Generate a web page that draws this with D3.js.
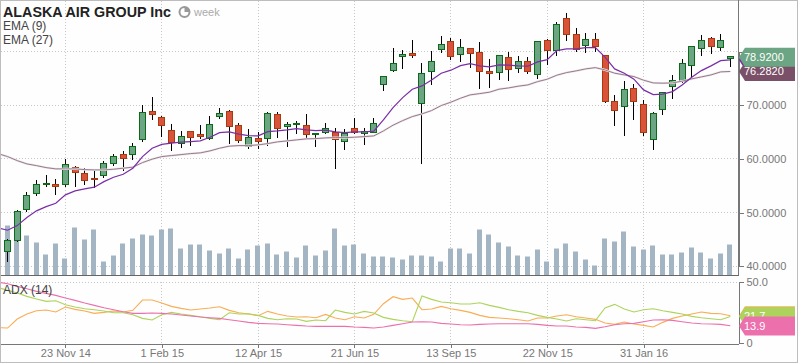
<!DOCTYPE html>
<html>
<head>
    <meta charset="utf-8" />
    <title>Alaska Air Group weekly</title>
    <style>
        html, body { margin: 0; padding: 0; background: #fefefe; }
        svg { display: block; font-family: "Liberation Sans", Arial, sans-serif; }
        .grid-line { stroke: #c8c8c8; stroke-dasharray: 1 2; shape-rendering: crispEdges; }
        .axis path, .axis line { stroke: #777; shape-rendering: crispEdges; }
        .axis text { fill: #777; font-size: 11px; font-family: "Liberation Sans", Arial, sans-serif; }
        .wick { stroke: #000; shape-rendering: crispEdges; }
        .body { shape-rendering: crispEdges; }
        .line { fill: none; }
    </style>
</head>
<body>
    <script src="https://cdn.jsdelivr.net/npm/d3@7/dist/d3.min.js"></script>
    <script>
        // weekly candles, 76 of them
        let opens = [42.74, 44.97, 50.56, 53.54, 55.22, 55.29, 55.22, 58.57, 57.45, 56.41, 56.89, 59.13, 60.88, 60.8, 63.59, 68.88, 67.77, 65.34, 62.92, 65.16,
            64.6, 63.97, 67.88, 68.88, 66.28, 62.37, 63.86, 63.86, 68.32, 66.02, 66.39, 66.39, 64.53, 64.9, 65.08, 63.3, 65.72, 64.79, 64.9, 73.91,
            76.44, 79.05, 79.68, 70.3, 76.33, 80.43, 81.92, 79.5, 80.61, 79.87, 76.39, 76.14, 78.94, 76.89, 78.19, 75.77, 82.1, 80.17, 86.2, 83.22,
            81.17, 82.29, 79.31, 70.74, 69.81, 73.17, 70.19, 63.67, 69.26, 73.54, 74.39, 77.45, 80.61, 82.48, 80.73, 78.7]
        let closes = [44.86, 50.32, 53.24, 55.29, 55.48, 54.84, 59.01, 57.71, 56.15, 56.15, 59.2, 60.5, 60.06, 62.37, 68.7, 68.25, 66.28, 63.04, 64.23, 64.04,
            64.15, 66.57, 68.51, 66.02, 63.48, 64.04, 63.22, 68.51, 65.64, 66.46, 66.65, 64.79, 64.79, 65.72, 63.86, 64.79, 64.9, 65.16, 66.65, 75.4,
            77.82, 79.5, 79.31, 75.96, 78.19, 81.36, 79.05, 80.8, 79.68, 76.33, 76.07, 79.31, 76.7, 78.19, 76.33, 81.92, 80.24, 85.08, 83.22, 80.35,
            82.29, 80.99, 70.74, 69.07, 72.98, 70.74, 64.97, 68.51, 72.42, 74.66, 77.82, 80.99, 82.1, 80.99, 82.1, 79.1]
        let highs = [45.11, 50.51, 53.8, 56.09, 57.02, 56.28, 60, 58.7, 58.27, 58.14, 59.63, 60.93, 61.49, 62.92, 70.06, 71.49, 68.01, 66.52, 65.27, 65.16,
            66.33, 68.01, 69.55, 69.12, 66.76, 65.59, 65.03, 68.75, 68.7, 66.83, 67.08, 68.32, 64.84, 66.65, 65.77, 65.53, 67.64, 65.77, 67.64, 75.4,
            80.67, 80.3, 82.16, 77.88, 80.11, 82.9, 82.48, 82.34, 80.61, 81.79, 78.62, 79.31, 79.92, 79.18, 78.99, 81.92, 82.29, 85.45, 87.19, 84.39,
            83.46, 83.46, 79.31, 71.92, 74.52, 73.91, 70.99, 68.7, 72.42, 75.64, 78.62, 80.99, 83.09, 82.66, 83.28, 79.12]
        let lows = [40.88, 44.6, 50.19, 53.17, 54.84, 53.3, 54.84, 54.84, 55.16, 54.66, 56.52, 58.7, 57.77, 59.81, 63.22, 67.26, 64.15, 61.55, 62.05, 62.48,
            63.67, 63.54, 67.39, 62.79, 63.04, 61.77, 61.77, 62.42, 63.97, 62.29, 64.66, 63.73, 62.29, 64.66, 58.2, 61.73, 64.66, 62.66, 64.79, 72.72,
            76.26, 76.76, 78.86, 59.13, 73.84, 79.79, 78.49, 78.12, 76.95, 73.09, 73.28, 74.71, 74.58, 76.07, 75.88, 74.95, 77.56, 79.24, 82.03, 79.98,
            79.79, 79.98, 70.48, 66.2, 64.34, 67.32, 64.34, 61.73, 68.19, 71.23, 74.1, 75.14, 79.24, 79.61, 80.17, 77.19]
        let volumes = [5.0, 3.7, 4.0, 3.3, 2.1, 3.2, 1.7, 4.8, 3.6, 4.6, 1.4, 2.0, 3.2, 3.7, 4.1, 4.0, 4.6, 4.7, 2.7, 3.1,
            3.1, 2.5, 2.2, 2.7, 1.7, 2.6, 3.0, 3.2, 2.1, 2.4, 1.8, 3.0, 2.0, 2.5, 4.7, 3.0, 3.1, 2.2, 1.9, 1.9,
            1.8, 1.6, 2.0, 2.0, 1.9, 1.4, 2.7, 2.7, 2.2, 4.6, 4.1, 3.3, 2.9, 2.0, 1.9, 2.6, 1.4, 2.7, 3.2, 2.4,
            1.6, 1.0, 3.7, 3.4, 4.4, 2.9, 2.6, 3.0, 2.1, 2.1, 2.3, 2.8, 2.3, 1.7, 2.2, 3.1]

        // indicators start one week earlier than the candles, that week is cut by the left edge
        let ema9 = [47.15, 46.72, 47.58, 49.07, 50.32, 51.12, 51.75, 53.3, 54.04, 54.42, 54.73, 55.77, 56.59, 57.15, 58.27, 60.43, 61.99, 62.7, 62.92, 63.11, 63.22,
            63.35, 64.04, 64.9, 65.03, 64.6, 64.34, 64.28, 65.08, 65.21, 65.4, 65.64, 65.4, 65.27, 65.34, 65.03, 64.9, 65.03, 65.03, 65.16, 67.26,
            69.55, 71.42, 72.98, 73.59, 74.71, 75.96, 76.52, 77.37, 77.75, 77.32, 77.13, 77.5, 77.45, 77.32, 77.26, 78.06, 78.49, 80.17, 80.48, 80.48,
            80.73, 80.73, 78.94, 76.76, 75.96, 74.84, 72.85, 71.97, 72.05, 72.53, 73.78, 75.21, 76.44, 77.32, 78.3, 78.43]
        let ema27 = [60.99, 60.43, 59.68, 59.07, 58.75, 58.38, 58.14, 58.14, 58.14, 58.01, 57.95, 57.95, 58.08, 58.27, 58.46, 59.31, 59.95, 60.43, 60.62, 60.8, 60.99,
            61.12, 61.49, 61.99, 62.37, 62.48, 62.48, 62.61, 62.85, 63.17, 63.35, 63.54, 63.73, 63.78, 63.91, 63.97, 63.97, 64.04, 64.15, 64.28, 65.21,
            66.28, 67.13, 67.88, 68.38, 69, 69.93, 70.56, 71.3, 71.92, 72.16, 72.42, 72.98, 73.22, 73.54, 73.78, 74.39, 74.84, 75.59, 76.07, 76.39,
            76.76, 77, 76.57, 75.96, 75.64, 75.33, 74.66, 74.15, 74.1, 74.15, 74.47, 74.9, 75.27, 75.64, 76.2, 76.28]
        let adxPink = [50.2, 48.84, 46.63, 44.7, 42.49, 40.84, 39.18, 36.98, 35.04, 32.84, 30.9, 28.97, 27.32, 25.66, 24.28, 24.28, 24.56, 24.28, 23.73, 22.9, 22.08,
            21.25, 20.7, 20.14, 19.04, 17.94, 16.83, 16, 15.73, 15.45, 14.9, 14.35, 13.8, 13.52, 13.52, 13.52, 13.52, 12.97, 12.69, 12.14, 12.97,
            14.35, 15.73, 17.11, 17.38, 17.11, 16, 15.45, 14.9, 14.62, 15.18, 15.45, 15.73, 15.73, 15.73, 15.73, 15.18, 14.35, 13.8, 13.8, 12.97,
            12.69, 11.87, 13.25, 14.9, 15.73, 16, 17.38, 18.76, 19.04, 18.49, 17.38, 16.28, 15.73, 15.45, 15.18, 14.07]
        let adxGreen = [45.8, 43.32, 41.12, 38.36, 36.15, 34.22, 34.77, 31.46, 29.53, 28.15, 27.32, 26.21, 24.83, 24.83, 23.18, 20.14, 18.76, 23.18, 25.11, 23.73, 22.63,
            21.52, 20.14, 19.04, 24.83, 23.73, 24.01, 22.63, 20.14, 19.04, 19.87, 19.59, 17.66, 18.76, 18.21, 27.04, 25.11, 23.73, 25.94, 24.56, 20.97,
            19.32, 18.21, 17.38, 38.63, 35.87, 33.66, 33.11, 32.01, 32.01, 33.11, 30.91, 29.25, 27.32, 25.94, 24.83, 22.63, 20.97, 19.59, 17.94, 19.87,
            19.04, 18.21, 28.7, 31.73, 27.87, 25.39, 27.32, 28.15, 26.49, 25.11, 23.73, 21.8, 20.7, 19.87, 19.04, 21.7]
        let adxOrange = [12.42, 12.14, 19.59, 23.73, 26.49, 27.04, 25.39, 29.53, 27.59, 26.21, 24.28, 25.11, 26.21, 25.39, 26.77, 35.32, 35.32, 32.84, 30.08, 28.42, 27.04,
            27.87, 28.7, 29.8, 26.77, 24.83, 23.73, 22.35, 25.94, 23.73, 22.08, 21.25, 21.52, 20.7, 23.45, 20.42, 19.04, 21.52, 20.42, 23.45, 32.28,
            38.08, 35.87, 36.98, 27.32, 27.87, 30.08, 28.15, 26.77, 25.11, 22.63, 20.97, 20.42, 19.87, 19.04, 17.94, 20.42, 20.42, 22.08, 23.18, 21.52,
            20.42, 19.32, 16.28, 15.18, 17.11, 15.45, 14.35, 12.97, 16.83, 20.14, 22.08, 23.73, 25.39, 24.28, 24.01, 22.35]

        let dateTicks = [6, 16, 26, 36, 46, 56, 66]
        let dateLabels = ['23 Nov 14', '1 Feb 15', '12 Apr 15', '21 Jun 15', '13 Sep 15', '22 Nov 15', '31 Jan 16']
        let priceTicks = [40, 50, 60, 70, 80]
        let adxTicks = [0, 50]
        let legendLabels = ['EMA (9)', 'EMA (27)']

        let width = 798,
            height = 363,
            plotRight = 738.5,
            mainBottom = 275.5,
            adxTop = 282,
            adxBottom = 343.5

        let svg = d3.select('body')
            .append('svg')
            .attr('width', width)
            .attr('height', height)

        let x = d3.scaleLinear().domain([0, 75]).range([7.6, 730.3])
        let y = d3.scaleLinear().domain([40, 80]).range([266.3, 51.5])
        let yVol = d3.scaleLinear().domain([0, 5]).range([mainBottom, mainBottom - 50])
        let yAdx = d3.scaleLinear().domain([0, 50]).range([342.7, 282.3])

        let crisp = function (v) { return Math.round(v - 0.5) + 0.5 }

        svg.append('defs').append('clipPath').attr('id', 'plot')
            .append('rect').attr('x', 1).attr('y', 1).attr('width', plotRight - 1).attr('height', height - 2)

        // outer frame
        svg.append('rect')
            .attr('x', 0.5).attr('y', 0.5)
            .attr('width', width - 1).attr('height', height - 1)
            .attr('fill', 'none')
            .attr('stroke', '#bdbdbd')

        // grid
        let grid = svg.append('g')
        grid.selectAll('line.v')
            .data(dateTicks)
            .enter().append('line')
            .attr('class', 'grid-line v')
            .attr('x1', function (d) { return crisp(x(d)) })
            .attr('x2', function (d) { return crisp(x(d)) })
            .attr('y1', 1).attr('y2', mainBottom)
        grid.selectAll('line.va')
            .data(dateTicks)
            .enter().append('line')
            .attr('class', 'grid-line va')
            .attr('x1', function (d) { return crisp(x(d)) })
            .attr('x2', function (d) { return crisp(x(d)) })
            .attr('y1', adxTop).attr('y2', adxBottom)
        grid.selectAll('line.h')
            .data(priceTicks)
            .enter().append('line')
            .attr('class', 'grid-line h')
            .attr('x1', 1).attr('x2', plotRight)
            .attr('y1', function (d) { return crisp(y(d)) })
            .attr('y2', function (d) { return crisp(y(d)) })
        grid.append('line')
            .attr('class', 'grid-line')
            .attr('x1', 1).attr('x2', plotRight)
            .attr('y1', adxTop).attr('y2', adxTop)

        // volume
        svg.append('g').selectAll('rect')
            .data(volumes)
            .enter().append('rect')
            .attr('x', function (d, i) { return Math.round(x(i)) - 3 })
            .attr('width', 5)
            .attr('y', function (d) { return yVol(d) })
            .attr('height', function (d) { return mainBottom - yVol(d) })
            .attr('fill', '#a3b5c2')

        // candles
        let candles = svg.append('g').selectAll('g')
            .data(d3.range(opens.length))
            .enter().append('g')

        candles.append('line')
            .attr('class', 'wick')
            .attr('x1', function (i) { return crisp(x(i)) })
            .attr('x2', function (i) { return crisp(x(i)) })
            .attr('y1', function (i) { return y(highs[i]) })
            .attr('y2', function (i) { return y(lows[i]) })

        candles.append('rect')
            .attr('class', 'body')
            .attr('x', function (i) { return crisp(x(i)) - 3 })
            .attr('width', 6)
            .attr('y', function (i) { return Math.round(y(Math.max(opens[i], closes[i]))) + 0.5 })
            .attr('height', function (i) { return Math.max(1, Math.round(Math.abs(y(opens[i]) - y(closes[i])))) })
            .attr('fill', function (i) { return closes[i] >= opens[i] ? '#6ba583' : '#d9533a' })
            .attr('stroke', function (i) { return closes[i] >= opens[i] ? '#0c6b16' : '#a83a0e' })

        // index -1 is the week before the first candle
        let priceLine = d3.line()
            .x(function (d, i) { return x(i - 1) })
            .y(function (d) { return y(d) })
        let adxLine = d3.line()
            .x(function (d, i) { return x(i - 1) })
            .y(function (d) { return yAdx(d) })

        let lines = svg.append('g').attr('clip-path', 'url(#plot)')

        lines.append('path').attr('class', 'line')
            .attr('d', priceLine(ema27))
            .attr('stroke', '#eee7eb').attr('stroke-width', 2.2)
        lines.append('path').attr('class', 'line')
            .attr('d', priceLine(ema27))
            .attr('stroke', '#96798a').attr('stroke-width', 1)
        lines.append('path').attr('class', 'line')
            .attr('d', priceLine(ema9))
            .attr('stroke', '#7a2ea6').attr('stroke-width', 1.2)

        lines.append('path').attr('class', 'line')
            .attr('d', adxLine(adxOrange))
            .attr('stroke', '#f9ad55').attr('stroke-width', 1.1)
        lines.append('path').attr('class', 'line')
            .attr('d', adxLine(adxGreen))
            .attr('stroke', '#aed35c').attr('stroke-width', 1.1)
        lines.append('path').attr('class', 'line')
            .attr('d', adxLine(adxPink))
            .attr('stroke', '#ec70ac').attr('stroke-width', 1.1)

        // axes
        svg.append('g')
            .attr('class', 'axis')
            .attr('transform', `translate(${plotRight}, 0)`)
            .call(d3.axisRight(y).tickValues(priceTicks).tickSize(5).tickPadding(3).tickFormat(d3.format('.4f')))
        svg.append('line')
            .attr('x1', plotRight).attr('x2', plotRight)
            .attr('y1', 0).attr('y2', mainBottom)
            .attr('stroke', '#777').attr('shape-rendering', 'crispEdges')
        svg.append('line')
            .attr('x1', 1).attr('x2', plotRight)
            .attr('y1', mainBottom).attr('y2', mainBottom)
            .attr('stroke', '#666').attr('shape-rendering', 'crispEdges')

        svg.append('g')
            .attr('class', 'axis')
            .attr('transform', `translate(${plotRight}, 0)`)
            .call(d3.axisRight(yAdx).tickValues(adxTicks).tickSize(5).tickPadding(3)
                .tickFormat(function (d) { return d === 0 ? '0' : d.toFixed(1) }))

        svg.append('g')
            .attr('class', 'axis')
            .attr('transform', `translate(0, ${adxBottom})`)
            .call(d3.axisBottom(x).tickValues(dateTicks).tickSize(4).tickPadding(2)
                .tickFormat(function (d, i) { return dateLabels[i] }))
            .call(function (g) { g.select('.domain').attr('d', `M1,0.5H${plotRight}`) })

        // value tags on the right, the later ones sit on top
        function tag(yPos, fill, label) {
            let g = svg.append('g').attr('transform', `translate(0, ${yPos})`)
            g.append('path')
                .attr('d', `M739,0L745,-9.5H795V9.5H745Z`)
                .attr('fill', fill)
            if (label) {
                g.append('text')
                    .attr('x', 744).attr('y', 4)
                    .attr('fill', '#fff')
                    .attr('font-size', 11)
                    .text(label)
            }
        }
        tag(y(ema9[ema9.length - 1]), '#7a2ea6')
        tag(y(ema27[ema27.length - 1]), '#7a5068', d3.format('.4f')(76.282))
        tag(y(78.92), '#6ba583', d3.format('.4f')(78.92))
        tag(yAdx(adxOrange[adxOrange.length - 1]), '#f9ad55')
        tag(yAdx(adxGreen[adxGreen.length - 1]), '#aed35c', adxGreen[adxGreen.length - 1].toFixed(1))
        tag(yAdx(13.9), '#ec70ac', (13.9).toFixed(1))

        // titles
        svg.append('text')
            .attr('x', 3).attr('y', 17)
            .attr('font-size', 14.3).attr('font-weight', 'bold').attr('fill', '#222')
            .text('ALASKA AIR GROUP Inc')
        svg.append('circle')
            .attr('cx', 184.5).attr('cy', 12).attr('r', 5)
            .attr('fill', 'none').attr('stroke', '#999').attr('stroke-width', 2)
        svg.append('path')
            .attr('d', 'M184.5,12V7A5,5,0,0,1,189.5,12Z')
            .attr('fill', '#999')
        svg.append('text')
            .attr('x', 194).attr('y', 16)
            .attr('font-size', 11).attr('fill', '#aaa')
            .text('week')

        svg.selectAll('text.legend')
            .data(legendLabels)
            .enter().append('text')
            .attr('class', 'legend')
            .attr('x', 3)
            .attr('y', function (d, i) { return 30 + i * 14 })
            .attr('font-size', 12).attr('fill', '#444')
            .text(function (d) { return d })

        svg.append('text')
            .attr('x', 3).attr('y', 294)
            .attr('font-size', 12).attr('fill', '#444')
            .text('ADX (14)')
    </script>
</body>
</html>
